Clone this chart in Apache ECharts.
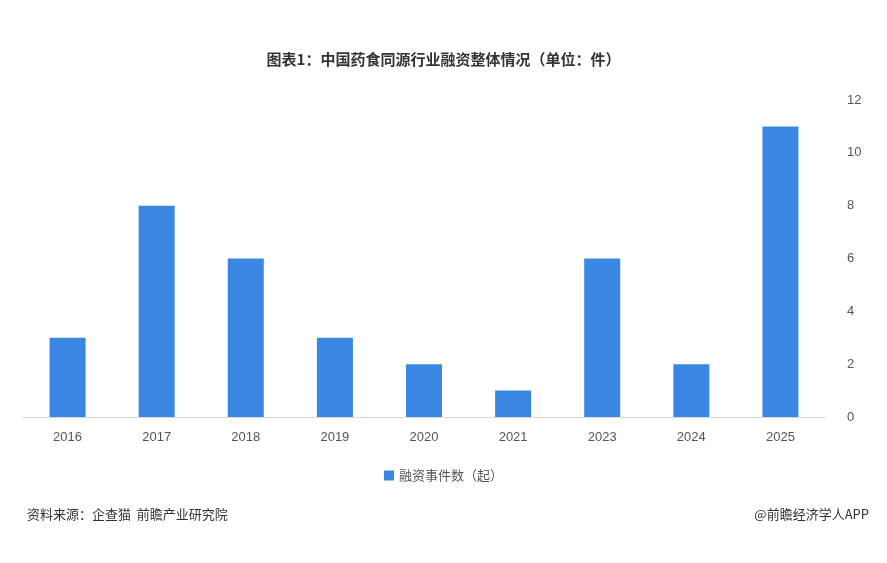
<!DOCTYPE html>
<html><head><meta charset="utf-8">
<script src="https://cdn.jsdelivr.net/npm/echarts@6/dist/echarts.min.js"></script>
<style>html,body{margin:0;padding:0;background:#fff}#main{width:887px;height:563px}</style>
</head><body><div id="main"></div>
<script>
const years = ['2016', '2017', '2018', '2019', '2020', '2021', '2023', '2024', '2025'];
const counts = [3, 8, 6, 3, 2, 1, 6, 2, 11];
const seriesName = '融资事件数（起）';

const chart = echarts.init(document.getElementById('main'));
const font = '"Noto Sans CJK SC", sans-serif';
chart.setOption({
  backgroundColor: '#fff',
  title: {
    text: '图表1：中国药食同源行业融资整体情况（单位：件）',
    left: 'center', top: 47,
    textStyle: { fontSize: 15, fontWeight: 'bold', color: '#333', fontFamily: font }
  },
  graphic: [
    { type: 'text', left: 27, top: 508, style: { text: '资料来源：企查猫  前瞻产业研究院', fontSize: 13, fill: '#333', fontFamily: font } },
    { type: 'text', right: 18, top: 508, style: { text: '@前瞻经济学人APP', fontSize: 13, fill: '#333', fontFamily: font } }
  ],
  legend: {
    bottom: 76, left: 'center', itemWidth: 10, itemHeight: 10, icon: 'rect',
    textStyle: { fontSize: 13, color: '#555', fontFamily: font }
  },
  grid: { left: 23, right: 62, top: 100, bottom: 146 },
  xAxis: {
    type: 'category', data: years,
    axisLine: { lineStyle: { color: '#d9d9d9' } },
    axisTick: { show: false },
    axisLabel: { color: '#555', fontSize: 13, margin: 14 }
  },
  yAxis: {
    type: 'value', position: 'right', min: 0, max: 12, interval: 2,
    splitLine: { show: false },
    axisLabel: { color: '#555', fontSize: 13, margin: 22 }
  },
  series: [{
    name: seriesName, type: 'bar', data: counts, barWidth: 36,
    itemStyle: { color: '#3a87e3' }
  }]
});
</script></body></html>
